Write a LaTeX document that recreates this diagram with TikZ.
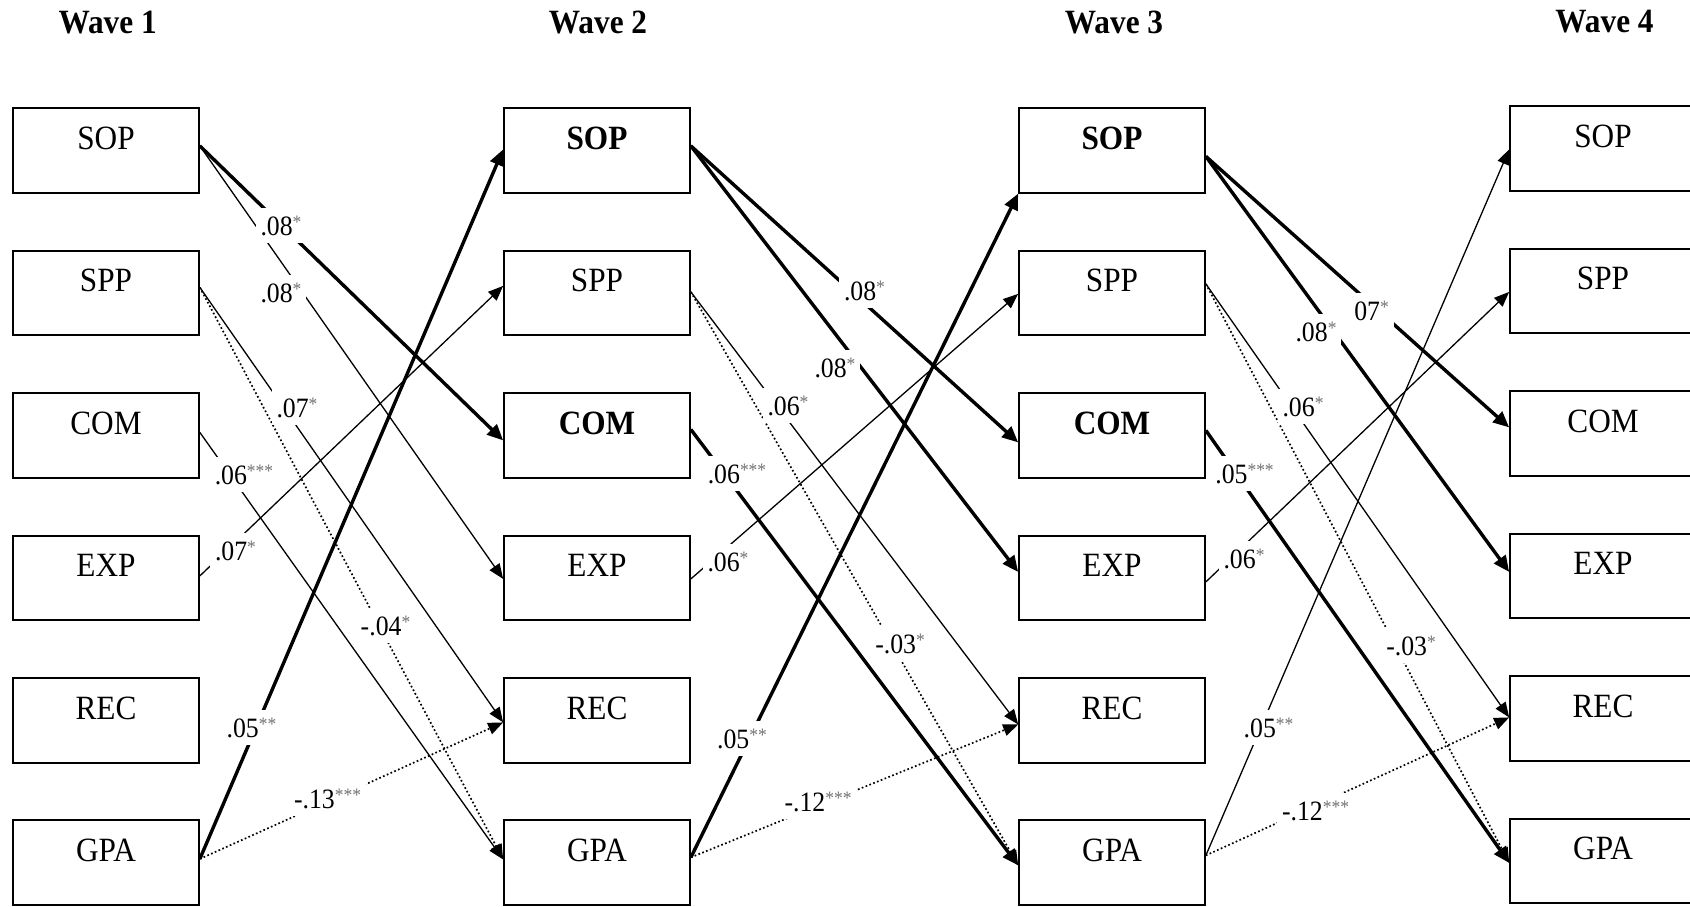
\documentclass[tikz,border=0pt]{standalone}
\usepackage{fontspec}
\setmainfont{Liberation Serif}[FakeStretch=0.92]
\usetikzlibrary{arrows.meta,calc}
\newcommand{\sig}[1]{{\color{black!55}\fontsize{9.5}{9.5}\selectfont\raisebox{3.5pt}{#1}}}
\begin{document}
\begin{tikzpicture}[x=0.5pt,y=-0.5pt,
  box/.style={draw, line width=0.85pt, rectangle, minimum width=93pt, minimum height=42.25pt,
    inner sep=0pt, text height=10pt, text depth=11.25pt, font=\fontsize{17}{17}\selectfont},
  wave/.style={anchor=base, inner sep=0pt, font=\bfseries\fontsize{17}{17}\selectfont},
  lbl/.style={fill=white, inner xsep=2.5pt, inner ysep=4pt, anchor=base, font=\fontsize{14}{14}\selectfont},
  thk/.style={line width=1.7pt, -{Triangle[length=8pt,width=7pt]}},
  thn/.style={line width=0.65pt, -{Triangle[length=7.5pt,width=6pt]}},
  dotarrow/.style={line width=0.85pt, dash pattern=on 0.85pt off 1.2pt, -{Triangle[length=7.5pt,width=6pt]}}
]
\clip (0,0) rectangle (1690,906);

% headers
\node[wave] (H1) at (107.6,33.3) {Wave 1};
\node[wave] (H2) at (598,33.3) {Wave 2};
\node[wave] (H3) at (1114,33.3) {Wave 3};
\node[wave] (H4) at (1604.5,32.3) {Wave 4};

% Wave 1
\node[box] (S1) at (106,150.5) {SOP};
\node[box] (P1) at (106,293) {SPP};
\node[box] (C1) at (106,435.5) {COM};
\node[box] (E1) at (106,578) {EXP};
\node[box] (R1) at (106,720.5) {REC};
\node[box] (G1) at (106,862.5) {GPA};
% Wave 2
\node[box] (S2) at (597,150.5) {\bfseries SOP};
\node[box] (P2) at (597,293) {SPP};
\node[box] (C2) at (597,435.5) {\bfseries COM};
\node[box] (E2) at (597,578) {EXP};
\node[box] (R2) at (597,720.5) {REC};
\node[box] (G2) at (597,862.5) {GPA};
% Wave 3
\node[box] (S3) at (1112,150.5) {\bfseries SOP};
\node[box] (P3) at (1112,293) {SPP};
\node[box] (C3) at (1112,435.5) {\bfseries COM};
\node[box] (E3) at (1112,578) {EXP};
\node[box] (R3) at (1112,720.5) {REC};
\node[box] (G3) at (1112,862.5) {GPA};
% Wave 4
\node[box] (S4) at (1603,148.5) {SOP};
\node[box] (P4) at (1603,291) {SPP};
\node[box] (C4) at (1603,433.5) {COM};
\node[box] (E4) at (1603,576) {EXP};
\node[box] (R4) at (1603,718.5) {REC};
\node[box] (G4) at (1603,861) {GPA};

% out points
\coordinate (S1o) at ($(S1.north east)+(0,38.5)$);
\coordinate (P1o) at ($(P1.north east)+(0,37.5)$);
\coordinate (C1o) at ($(C1.north east)+(0,40)$);
\coordinate (E1o) at ($(E1.north east)+(0,41)$);
\coordinate (G1o) at ($(G1.north east)+(0,39.5)$);
\coordinate (S2o) at ($(S2.north east)+(0,38.5)$);
\coordinate (P2o) at ($(P2.north east)+(0,42)$);
\coordinate (C2o) at ($(C2.north east)+(0,37)$);
\coordinate (E2o) at ($(E2.north east)+(0,44)$);
\coordinate (G2o) at ($(G2.north east)+(0,38)$);
\coordinate (S3o) at ($(S3.north east)+(0,49)$);
\coordinate (P3o) at ($(P3.north east)+(0,34)$);
\coordinate (C3o) at ($(C3.north east)+(0,38)$);
\coordinate (E3o) at ($(E3.north east)+(0,47)$);
\coordinate (G3o) at ($(G3.north east)+(0,36)$);
% in points
\coordinate (S2i) at ($(S2.north west)+(0,42)$);
\coordinate (P2i) at ($(P2.north west)+(0,36)$);
\coordinate (C2i) at ($(C2.north west)+(0,48)$);
\coordinate (E2i) at ($(E2.north west)+(0,44)$);
\coordinate (R2i) at ($(R2.north west)+(0,45)$);
\coordinate (G2i) at ($(G2.north west)+(0,40)$);
\coordinate (P3i) at ($(P3.north west)+(0,44)$);
\coordinate (C3i) at ($(C3.north west)+(0,50)$);
\coordinate (E3i) at ($(E3.north west)+(0,37)$);
\coordinate (R3i) at ($(R3.north west)+(0,47)$);
\coordinate (G3i) at ($(G3.north west)+(0,46)$);
\coordinate (S4i) at ($(S4.north west)+(0,44)$);
\coordinate (P4i) at ($(P4.north west)+(0,44)$);
\coordinate (C4i) at ($(C4.north west)+(0,37)$);
\coordinate (E4i) at ($(E4.north west)+(0,39)$);
\coordinate (R4i) at ($(R4.north west)+(0,42)$);
\coordinate (G4i) at ($(G4.north west)+(0,45)$);

% Wave 1 -> 2
\draw[dotarrow] (P1o) -- (G2i);
\draw[dotarrow] (G1o) -- (R2i);
\draw[thk] (S1o) -- (C2i);
\draw[thn] (S1o) -- (E2i);
\draw[thn] (P1o) -- (R2i);
\draw[thn] (C1o) -- (G2i);
\draw[thn] (E1o) -- (P2i);
\draw[thk] (G1o) -- (S2i);
% Wave 2 -> 3
\draw[dotarrow] (P2o) -- (G3i);
\draw[dotarrow] (G2o) -- (R3i);
\draw[thk] (S2o) -- (C3i);
\draw[thk] (S2o) -- (E3i);
\draw[thn] (P2o) -- (R3i);
\draw[thk] (C2o) -- (G3i);
\draw[thn] (E2o) -- (P3i);
\draw[thk] (G2o) -- (S3.south west);
% Wave 3 -> 4
\draw[dotarrow] (P3o) -- (G4i);
\draw[dotarrow] (G3o) -- (R4i);
\draw[thk] (S3o) -- (C4i);
\draw[thk] (S3o) -- (E4i);
\draw[thn] (P3o) -- (R4i);
\draw[thk] (C3o) -- (G4i);
\draw[thn] (E3o) -- (P4i);
\draw[thn] (G3o) -- (S4i);

% labels Wave 1 -> 2
\node[lbl] (La1) at (281,235) {.08\sig{*}};
\node[lbl] (Lb1) at (281,302) {.08\sig{*}};
\node[lbl] (Lc1) at (297,417) {.07\sig{*}};
\node[lbl] (Ld1) at (244,484) {.06\sig{***}};
\node[lbl] (Le1) at (235.5,560) {.07\sig{*}};
\node[lbl] (Lf1) at (385.5,635) {-.04\sig{*}};
\node[lbl] (Lg1) at (251.5,737) {.05\sig{**}};
\node[lbl] (Lh1) at (327.5,808) {-.13\sig{***}};
% labels Wave 2 -> 3
\node[lbl] (La2) at (864.5,300) {.08\sig{*}};
\node[lbl] (Lb2) at (835,377) {.08\sig{*}};
\node[lbl] (Lc2) at (788,415) {.06\sig{*}};
\node[lbl] (Ld2) at (737,483) {.06\sig{***}};
\node[lbl] (Le2) at (728,571) {.06\sig{*}};
\node[lbl] (Lf2) at (900,653) {-.03\sig{*}};
\node[lbl] (Lg2) at (742,748) {.05\sig{**}};
\node[lbl] (Lh2) at (818,811) {-.12\sig{***}};
% labels Wave 3 -> 4
\node[lbl] (La3) at (1371.5,320) {07\sig{*}};
\node[lbl] (Lb3) at (1316,341) {.08\sig{*}};
\node[lbl] (Lc3) at (1303,416) {.06\sig{*}};
\node[lbl] (Ld3) at (1244.5,483) {.05\sig{***}};
\node[lbl] (Le3) at (1244,568) {.06\sig{*}};
\node[lbl] (Lf3) at (1411,655) {-.03\sig{*}};
\node[lbl] (Lg3) at (1268.5,737) {.05\sig{**}};
\node[lbl] (Lh3) at (1315.5,820) {-.12\sig{***}};
\end{tikzpicture}
\end{document}
